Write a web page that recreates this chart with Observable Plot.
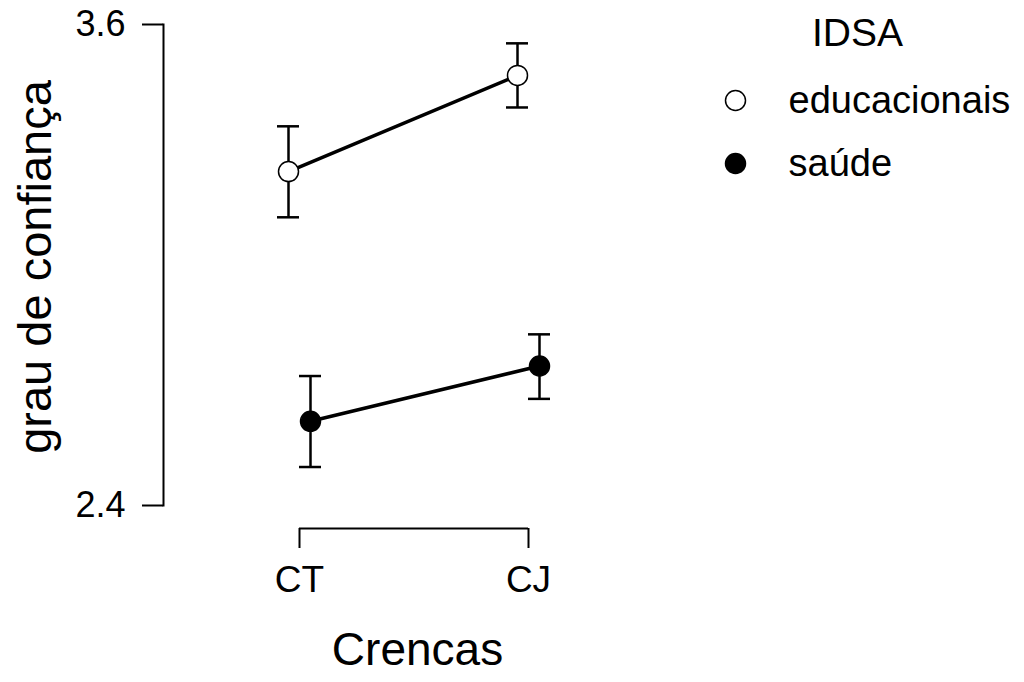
<!DOCTYPE html>
<html>
<head>
<meta charset="utf-8">
<script src="https://cdn.jsdelivr.net/npm/d3@7"></script>
<script src="https://cdn.jsdelivr.net/npm/@observablehq/plot@0.6"></script>
<style>
  html, body { margin: 0; padding: 0; background: white; }
  #chart { position: relative; width: 1024px; height: 682px; overflow: hidden; }
  #legend { position: absolute; left: 700px; top: 0px; }
  svg text { font-family: "Liberation Sans", Arial, sans-serif; }
</style>
</head>
<body>
<div id="chart"><div id="main"></div><div id="legend"></div></div>
<script>
// ---- data ----
const categories = ["CT", "CJ"];
const groups = ["educacionais", "saúde"];
const eduMean  = [3.233, 3.473];
const eduLower = [3.119, 3.393];
const eduUpper = [3.346, 3.553];
const saudeMean  = [2.610, 2.748];
const saudeLower = [2.496, 2.666];
const saudeUpper = [2.723, 2.827];
const yTicks = [2.4, 3.6];
const yLabel = "grau de confiança";
const xLabel = "Crencas";
const legendTitle = "IDSA";

// ---- table built from arrays ----
const series = [
  {group: groups[0], mean: eduMean, lo: eduLower, hi: eduUpper, fill: "white", dx: -11},
  {group: groups[1], mean: saudeMean, lo: saudeLower, hi: saudeUpper, fill: "black", dx: 11}
];
const rowsFor = s => categories.map((c, i) => ({crenca: c, group: s.group, mean: s.mean[i], lo: s.lo[i], hi: s.hi[i]}));
const xSpan = [{from: categories[0], to: categories[categories.length - 1], at: yTicks[0]}];

const font = '"Liberation Sans", Arial, sans-serif';
const marks = [
  Plot.frame({anchor: "left", strokeWidth: 2}),
  Plot.axisY(yTicks, {tickSize: 21, tickPadding: 17, fontSize: 36, strokeWidth: 2, tickFormat: d => d.toFixed(1), label: null}),
  Plot.ruleY(xSpan, {x1: "from", x2: "to", y: "at", dy: 23, strokeWidth: 2}),
  Plot.axisX(categories, {tickSize: 20, tickPadding: 17, fontSize: 37, strokeWidth: 2, dy: 23, label: null}),
  Plot.text([yLabel], {frameAnchor: "left", dx: -128, dy: 2, rotate: -90, fontSize: 47, textAnchor: "middle", lineAnchor: "middle"}),
  Plot.text([xLabel], {frameAnchor: "bottom-left", dx: 254, dy: 127, fontSize: 46, textAnchor: "middle", lineAnchor: "top"})
];
for (const s of series) {
  const rows = rowsFor(s);
  marks.push(
    Plot.line(rows, {x: "crenca", y: "mean", dx: s.dx, stroke: "black", strokeWidth: 3.5}),
    Plot.ruleX(rows, {x: "crenca", y1: "lo", y2: "hi", dx: s.dx, stroke: "black", strokeWidth: 2.5}),
    Plot.ruleY(rows, {y: "hi", x1: "crenca", x2: "crenca", insetLeft: -11, insetRight: -11, dx: s.dx, stroke: "black", strokeWidth: 2.5}),
    Plot.ruleY(rows, {y: "lo", x1: "crenca", x2: "crenca", insetLeft: -11, insetRight: -11, dx: s.dx, stroke: "black", strokeWidth: 2.5}),
    Plot.dot(rows, {x: "crenca", y: "mean", dx: s.dx, r: 10, fill: s.fill, stroke: "black", strokeWidth: 1.5})
  );
}

const main = Plot.plot({
  width: 1024,
  height: 682,
  marginLeft: 163,
  marginTop: 24,
  marginBottom: 177,
  marginRight: 100,
  style: {fontFamily: font, background: "white", color: "black"},
  x: {type: "point", domain: categories, range: [299, 528], padding: 0, axis: null},
  y: {domain: [yTicks[0], yTicks[yTicks.length - 1]], axis: null},
  marks
});
document.getElementById("main").appendChild(main);

// ---- legend ----
const legendMarks = [
  Plot.text([legendTitle], {frameAnchor: "top", dx: -5, dy: 33, fontSize: 39, textAnchor: "middle", lineAnchor: "middle"})
];
for (const s of series) {
  legendMarks.push(
    Plot.dot([s.group], {y: d => d, frameAnchor: "left", dx: 35, r: 10, fill: s.fill, stroke: "black", strokeWidth: 1.5}),
    Plot.text([s.group], {y: d => d, frameAnchor: "left", dx: 88, fontSize: 38, textAnchor: "start", lineAnchor: "middle"})
  );
}
const legend = Plot.plot({
  width: 324,
  height: 200,
  margin: 0,
  style: {fontFamily: font, background: "transparent", color: "black"},
  y: {type: "point", domain: groups, range: [100, 163], padding: 0, axis: null},
  marks: legendMarks
});
document.getElementById("legend").appendChild(legend);
</script>
</body>
</html>
